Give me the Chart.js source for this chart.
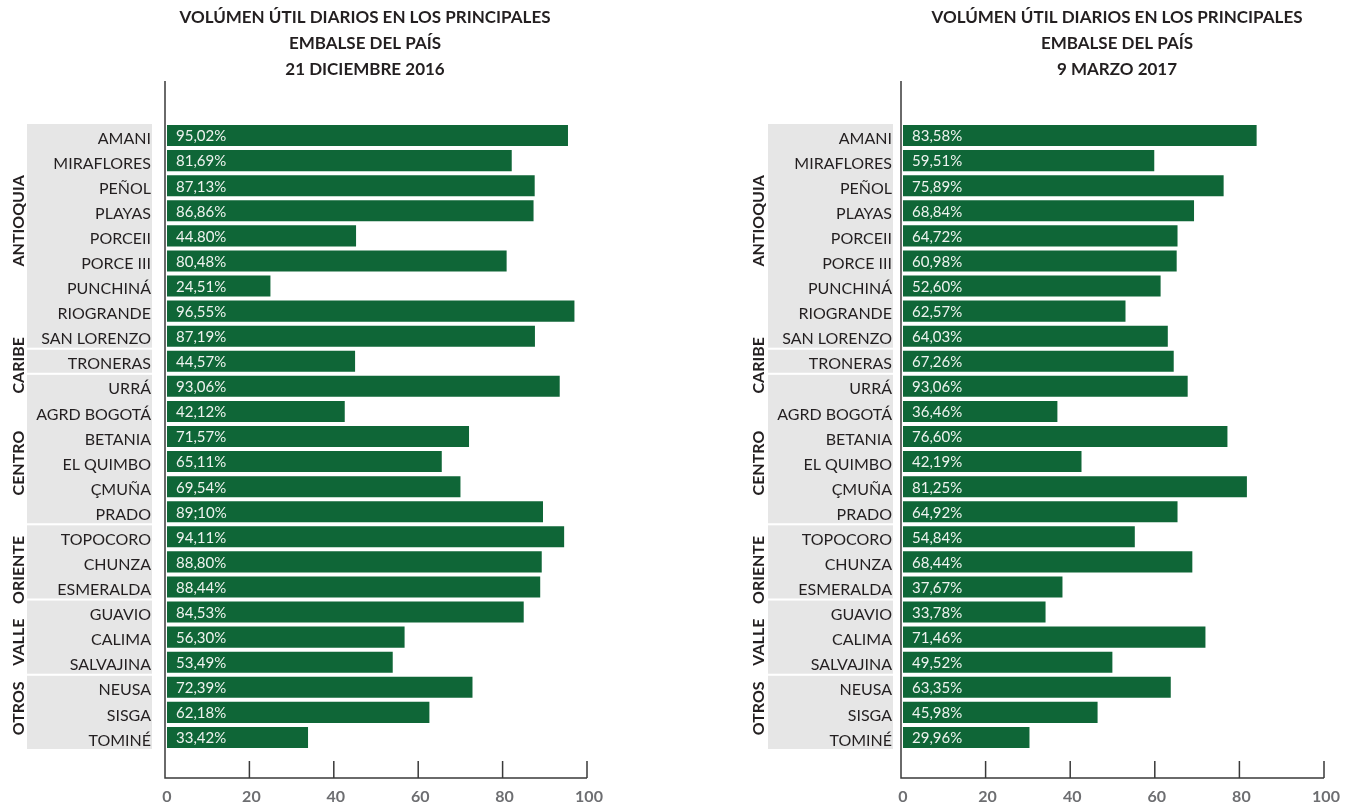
<!DOCTYPE html>
<html>
<head>
<meta charset="utf-8">
<script src="https://cdn.jsdelivr.net/npm/chart.js@4.4.0/dist/chart.umd.min.js"></script>
<style>
  body { margin: 0; background: #fff; overflow: hidden; }
  .box { position: absolute; top: 0; width: 675px; height: 809px; }
</style>
</head>
<body>
<div class="box" style="left:0"><canvas id="chartLeft"></canvas></div>
<div class="box" style="left:676px"><canvas id="chartRight"></canvas></div>
<script>
// embalses, en el orden del gráfico
const categories = ["AMANI", "MIRAFLORES", "PEÑOL", "PLAYAS", "PORCEII", "PORCE III", "PUNCHINÁ",
  "RIOGRANDE", "SAN LORENZO", "TRONERAS", "URRÁ", "AGRD BOGOTÁ", "BETANIA", "EL QUIMBO", "ÇMUÑA",
  "PRADO", "TOPOCORO", "CHUNZA", "ESMERALDA", "GUAVIO", "CALIMA", "SALVAJINA", "NEUSA", "SISGA", "TOMINÉ"];
const groupNames = ["ANTIOQUIA", "CARIBE", "CENTRO", "ORIENTE", "VALLE", "OTROS"];
const groupSizes = [9, 1, 6, 3, 3, 3];
const xTicks = [0, 20, 40, 60, 80, 100];

// 21 diciembre 2016
const titleLeft = ["VOLÚMEN ÚTIL DIARIOS EN LOS PRINCIPALES", "EMBALSE DEL PAÍS", "21 DICIEMBRE 2016"];
const valuesLeft = [95.02, 81.69, 87.13, 86.86, 44.80, 80.48, 24.51, 96.55, 87.19, 44.57, 93.06, 42.12,
  71.57, 65.11, 69.54, 89.10, 94.11, 88.80, 88.44, 84.53, 56.30, 53.49, 72.39, 62.18, 33.42];
const labelsLeft = ["95,02%", "81,69%", "87,13%", "86,86%", "44.80%", "80,48%", "24,51%", "96,55%",
  "87,19%", "44,57%", "93,06%", "42,12%", "71,57%", "65,11%", "69,54%", "89;10%", "94,11%", "88,80%",
  "88,44%", "84,53%", "56,30%", "53,49%", "72,39%", "62,18%", "33,42%"];

// 9 marzo 2017 (largo de barra leído del dibujo, no siempre igual al texto)
const titleRight = ["VOLÚMEN ÚTIL DIARIOS EN LOS PRINCIPALES", "EMBALSE DEL PAÍS", "9 MARZO 2017"];
const valuesRight = [83.6, 59.4, 75.8, 68.8, 64.9, 64.7, 60.9, 52.6, 62.6, 64.0, 67.3, 36.5,
  76.7, 42.2, 81.3, 64.9, 54.8, 68.4, 37.7, 33.7, 71.5, 49.5, 63.3, 46.0, 29.9];
const labelsRight = ["83,58%", "59,51%", "75,89%", "68,84%", "64,72%", "60,98%", "52,60%", "62,57%",
  "64,03%", "67,26%", "93,06%", "36,46%", "76,60%", "42,19%", "81,25%", "64,92%", "54,84%", "68,44%",
  "37,67%", "33,78%", "71,46%", "49,52%", "63,35%", "45,98%", "29,96%"];

const FONT = "Lato, 'Open Sans', sans-serif";
const GREEN = "#0f6637";
const DARK = "#231f20";
// corrimiento vertical de cada rótulo de región respecto al centro de su franja
const groupShift = [-15, 4, 14, 8, 5, -4];

function decor(opt) {
  return {
    id: "decor",
    beforeDraw(chart) {
      const ctx = chart.ctx;
      const y = chart.scales.y;
      ctx.save();
      ctx.fillStyle = "#e6e6e6";
      let start = 0;
      groupSizes.forEach(function (n) {
        const top = y.getPixelForValue(start) - 11.5;
        const bottom = y.getPixelForValue(start + n - 1) + 11.5;
        ctx.fillRect(opt.bandLeft, top, opt.bandRight - opt.bandLeft, bottom - top);
        start += n;
      });
      ctx.restore();
    },
    afterDraw(chart) {
      const ctx = chart.ctx;
      const x = chart.scales.x;
      const y = chart.scales.y;
      const area = chart.chartArea;
      ctx.save();

      // texto dentro de las barras
      ctx.font = "15px " + FONT;
      ctx.fillStyle = "#eef3ef";
      ctx.textAlign = "left";
      ctx.textBaseline = "middle";
      chart.getDatasetMeta(0).data.forEach(function (bar, i) {
        ctx.fillText(opt.labels[i], bar.base + 9, bar.y + 1);
      });

      // ejes
      const axisX = area.left - 2;
      const axisY = 778;
      ctx.strokeStyle = "#3a3a3a";
      ctx.lineWidth = 1.5;
      ctx.beginPath();
      ctx.moveTo(axisX, 81);
      ctx.lineTo(axisX, axisY);
      ctx.lineTo(x.getPixelForValue(100) - 2, axisY);
      x.ticks.forEach(function (t) {
        const px = x.getPixelForValue(t.value) - 2;
        ctx.moveTo(px, axisY);
        ctx.lineTo(px, axisY - 17);
      });
      ctx.stroke();

      // regiones
      ctx.font = "bold 16px " + FONT;
      ctx.fillStyle = DARK;
      ctx.textAlign = "center";
      ctx.textBaseline = "middle";
      let start = 0;
      groupNames.forEach(function (name, g) {
        const n = groupSizes[g];
        const cy = (y.getPixelForValue(start) + y.getPixelForValue(start + n - 1)) / 2 + groupShift[g];
        ctx.save();
        ctx.translate(opt.groupX, cy);
        ctx.rotate(-Math.PI / 2);
        ctx.fillText(name, 0, 0);
        ctx.restore();
        start += n;
      });

      // título
      ctx.font = "bold 17px " + FONT;
      opt.title.forEach(function (line, i) {
        ctx.fillText(line, opt.titleX, 18 + i * 26);
      });
      ctx.restore();
    }
  };
}

function makeChart(id, values, opt) {
  return new Chart(document.getElementById(id), {
    type: "bar",
    data: {
      labels: categories,
      datasets: [{
        data: values,
        backgroundColor: GREEN,
        barPercentage: 0.84,
        categoryPercentage: 1.0
      }]
    },
    options: {
      indexAxis: "y",
      responsive: true,
      maintainAspectRatio: false,
      animation: false,
      layout: { padding: { top: 123, right: opt.rightPad, bottom: 0, left: 0 } },
      plugins: { legend: { display: false }, tooltip: { enabled: false } },
      scales: {
        x: {
          min: 0,
          max: 100,
          grid: { display: false, drawTicks: true, tickLength: 37 },
          border: { display: false },
          afterBuildTicks: function (s) { s.ticks = xTicks.map(function (v) { return { value: v }; }); },
          afterFit: function (s) { s.height = 59; },
          ticks: { padding: 0, color: "#6d6e71", font: { family: FONT, size: 16, weight: "bold" } }
        },
        y: {
          grid: { display: false, drawTicks: false },
          border: { display: false },
          afterFit: function (s) { s.width = opt.axisLeft; },
          ticks: { padding: opt.labelPad, labelOffset: 3, color: DARK, font: { family: FONT, size: 16 } }
        }
      }
    },
    plugins: [decor(opt)]
  });
}

makeChart("chartLeft", valuesLeft, {
  labels: labelsLeft, title: titleLeft, titleX: 365,
  axisLeft: 167, rightPad: 86, labelPad: 16,
  bandLeft: 27, bandRight: 152, groupX: 18.5
});
makeChart("chartRight", valuesRight, {
  labels: labelsRight, title: titleRight, titleX: 441,
  axisLeft: 227, rightPad: 25, labelPad: 11,
  bandLeft: 92, bandRight: 217, groupX: 82.5
});
</script>
</body>
</html>
